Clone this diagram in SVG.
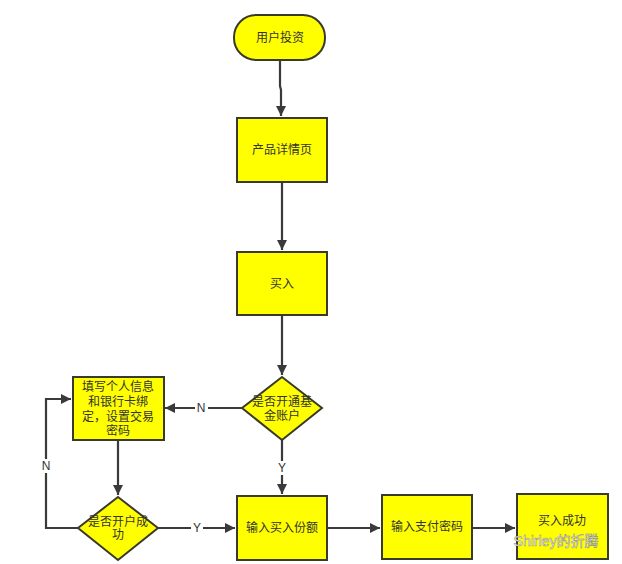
<svg xmlns="http://www.w3.org/2000/svg" width="622" height="564" viewBox="0 0 622 564">
<style>
.n{fill:#ffff00;stroke:#3a3a2a;stroke-width:2}
.t{font-family:"Liberation Sans","Noto Sans CJK SC",sans-serif;font-size:12px;fill:#333;text-anchor:middle;dominant-baseline:central}
.c{fill:none;stroke:#3a3a3a;stroke-width:2.2}
.l{font-family:"Liberation Sans",sans-serif;font-size:12px;fill:#333;text-anchor:middle;dominant-baseline:central}
</style>
<defs>
<marker id="a" viewBox="0 0 10 10" refX="10" refY="5" markerWidth="10" markerHeight="10" markerUnits="userSpaceOnUse" orient="auto">
<path d="M0,0 L10,5 L0,10 z" fill="#3a3a3a"/>
</marker>
</defs>
<rect width="622" height="564" fill="#fff"/>
<g id="connectors">
<path class="c" d="M280,60 V86 L281,90 V116" marker-end="url(#a)"/>
<path class="c" d="M282,182 V250" marker-end="url(#a)"/>
<path class="c" d="M282,315 V375" marker-end="url(#a)"/>
<path class="c" d="M242,408 H165" marker-end="url(#a)"/>
<rect x="195" y="401" width="13" height="14" fill="#fff"/>
<text class="l" x="201" y="408">N</text>
<path class="c" d="M282,440 V494" marker-end="url(#a)"/>
<rect x="276" y="461" width="12" height="14" fill="#fff"/>
<text class="l" x="282" y="468">Y</text>
<path class="c" d="M118,440 V495" marker-end="url(#a)"/>
<path class="c" d="M78,528 H46 V399 H71" marker-end="url(#a)"/>
<rect x="40" y="459" width="13" height="14" fill="#fff"/>
<text class="l" x="46" y="466">N</text>
<path class="c" d="M158,528 H235" marker-end="url(#a)"/>
<rect x="191" y="521" width="12" height="14" fill="#fff"/>
<text class="l" x="197" y="528">Y</text>
<path class="c" d="M327,528 H380" marker-end="url(#a)"/>
<path class="c" d="M472,528 H515" marker-end="url(#a)"/>
</g>
<g id="start">
<rect class="n" x="234" y="15" width="91" height="45" rx="22"/>
<text class="t" x="280" y="38">用户投资</text>
</g>
<g id="detail">
<rect class="n" x="237" y="118" width="90" height="64"/>
<text class="t" x="282" y="150">产品详情页</text>
</g>
<g id="buy">
<rect class="n" x="237" y="252" width="90" height="63"/>
<text class="t" x="282" y="284">买入</text>
</g>
<g id="check-account">
<path class="n" d="M282,377 L322,408 L282,440 L242,408 z"/>
<text class="t" x="282" y="402">是否开通基</text>
<text class="t" x="282" y="416">金账户</text>
</g>
<g id="fill-info">
<rect class="n" x="73" y="377" width="91" height="63"/>
<text class="t" x="118" y="387">填写个人信息</text>
<text class="t" x="118" y="402">和银行卡绑</text>
<text class="t" x="118" y="417">定，设置交易</text>
<text class="t" x="118" y="431">密码</text>
</g>
<g id="check-open">
<path class="n" d="M118,497 L158,528 L118,560 L78,528 z"/>
<text class="t" x="118" y="522">是否开户成</text>
<text class="t" x="118" y="535">功</text>
</g>
<g id="amount">
<rect class="n" x="237" y="496" width="90" height="64"/>
<text class="t" x="282" y="528">输入买入份额</text>
</g>
<g id="password">
<rect class="n" x="382" y="495" width="90" height="64"/>
<text class="t" x="427" y="527">输入支付密码</text>
</g>
<g id="success">
<rect class="n" x="517" y="494" width="91" height="65"/>
<text class="t" x="562" y="521">买入成功</text>
</g>
<text x="556" y="541" font-family="Liberation Sans,'Noto Sans CJK SC',sans-serif" font-size="14" fill="#fff" stroke="#888" stroke-width="0.5" text-anchor="middle" dominant-baseline="central">Shirley的折腾</text>
</svg>
